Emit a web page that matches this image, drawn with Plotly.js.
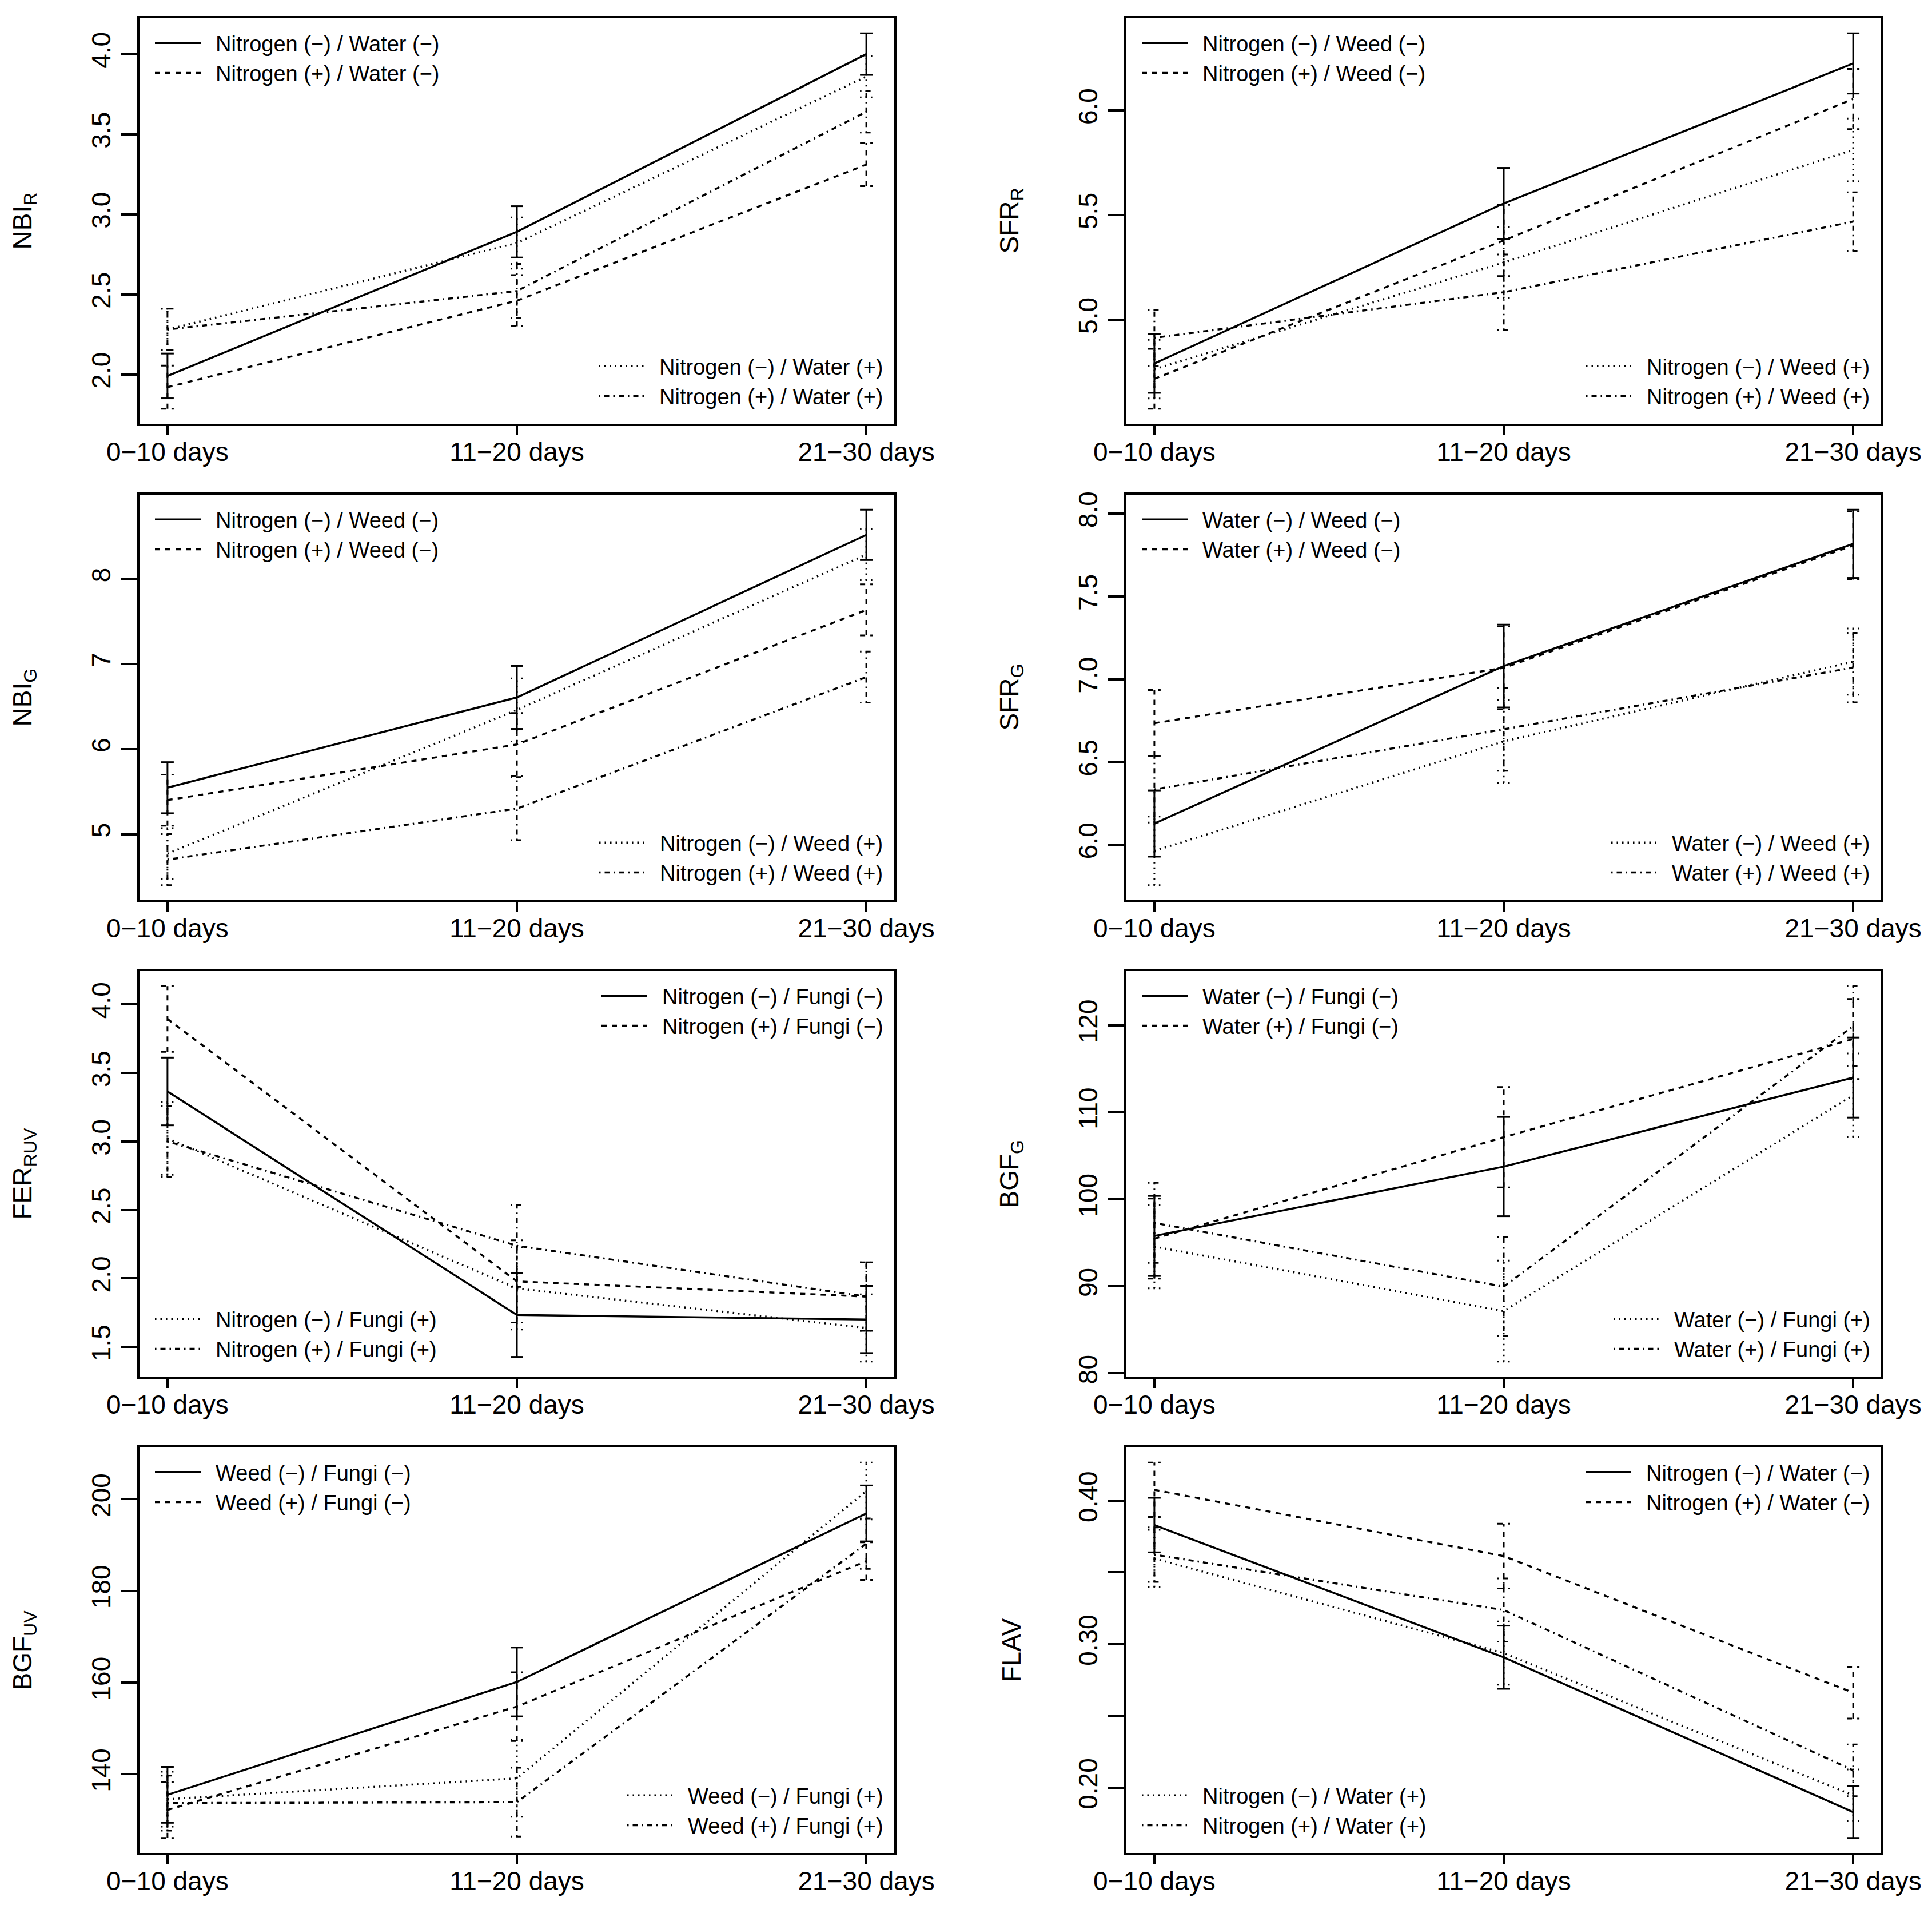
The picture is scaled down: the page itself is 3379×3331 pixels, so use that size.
<!DOCTYPE html>
<html>
<head>
<meta charset="utf-8">
<script src="https://cdn.plot.ly/plotly-3.0.1.min.js"></script>
<style>
  body { margin: 0; background: #fff; }
</style>
</head>
<body>
<div id="chart" style="width:3379px;height:3331px"></div>
<script>
// time windows on the x axis
const days = ['0\u221210 days', '11\u221220 days', '21\u221230 days'];
const dayPos = [1, 2, 3];

// every panel: [solid, dashed, dotted, dot-dash] series, means then error half-widths
const nbiR = [[1.99, 2.89, 4.00], [1.92, 2.46, 3.31], [2.28, 2.82, 3.86], [2.28, 2.52, 3.64]];
const nbiRErr = [[0.14, 0.16, 0.13], [0.135, 0.16, 0.135], [0.13, 0.16, 0.13], [0.13, 0.17, 0.13]];

const sfrR = [[4.79, 5.555, 6.224], [4.717, 5.378, 6.054], [4.763, 5.273, 5.811], [4.913, 5.131, 5.468]];
const sfrRErr = [[0.14, 0.17, 0.144], [0.143, 0.17, 0.144], [0.14, 0.17, 0.15], [0.134, 0.18, 0.14]];

const nbiG = [[5.546, 6.607, 8.518], [5.40, 6.054, 7.636], [4.77, 6.46, 8.286], [4.70, 5.30, 6.846]];
const nbiGErr = [[0.30, 0.37, 0.296], [0.30, 0.37, 0.30], [0.30, 0.37, 0.30], [0.30, 0.37, 0.30]];

const sfrG = [[6.128, 7.079, 7.817], [6.734, 7.068, 7.807], [5.963, 6.624, 7.106], [6.334, 6.697, 7.07]];
const sfrGErr = [[0.20, 0.25, 0.206], [0.20, 0.25, 0.206], [0.207, 0.25, 0.20], [0.20, 0.25, 0.21]];

const ferRuv = [[3.364, 1.733, 1.70], [3.893, 1.978, 1.867], [3.022, 1.927, 1.638], [3.0, 2.238, 1.867]];
const ferRuvErr = [[0.247, 0.306, 0.245], [0.24, 0.30, 0.25], [0.266, 0.30, 0.245], [0.26, 0.30, 0.25]];

const bgfG = [[95.79, 103.76, 113.99], [95.48, 107.14, 118.43], [94.57, 87.16, 111.96], [97.29, 89.96, 119.9]];
const bgfGErr = [[4.6, 5.7, 4.6], [4.6, 5.77, 4.6], [4.8, 5.8, 4.8], [4.6, 5.7, 4.6]];

const bgfUv = [[135.5, 160.13, 196.9], [132.2, 154.75, 186.5], [134.55, 139.1, 201.8], [133.7, 133.9, 190.3]];
const bgfUvErr = [[6.1, 7.5, 6.1], [6.1, 7.5, 4.1], [6.0, 8.4, 6.2], [6.0, 7.5, 5.5]];

const flav = [[0.383, 0.2909, 0.183], [0.4076, 0.3614, 0.2662], [0.3597, 0.2938, 0.1947], [0.3624, 0.3238, 0.2121]];
const flavErr = [[0.019, 0.022, 0.018], [0.019, 0.0226, 0.018], [0.020, 0.022, 0.018], [0.019, 0.022, 0.018]];

// y tick values (labelled), plus unlabelled ticks where R dropped the label
const nbiRTicks = [2.0, 2.5, 3.0, 3.5, 4.0];
const sfrRTicks = [5.0, 5.5, 6.0];
const nbiGTicks = [5, 6, 7, 8];
const sfrGTicks = [6.0, 6.5, 7.0, 7.5, 8.0];
const ferRuvTicks = [1.5, 2.0, 2.5, 3.0, 3.5, 4.0];
const bgfGTicks = [80, 90, 100, 110, 120];
const bgfUvTicks = [140, 160, 180, 200];
const flavTicks = [0.20, 0.30, 0.40];
const flavBareTicks = [0.25, 0.35];

const W = 3379;
const H = 3331;
const FONT = 'Liberation Sans, Arial, Helvetica, sans-serif';
const colLeft = [244, 1970];
const colRight = [1564, 3290];
const rowTop = [32, 865, 1698, 2531];
const rowBottom = [741, 1574, 2407, 3240];
const dashes = ['solid', '9px,9px', '2.5px,7px', '2.5px,7px,9px,7px'];
const capHalf = 0.018;
const gap = '\u00a0\u00a0';

function comboLabels(a, b) {
  const m = '\u2212';
  return [
    `${gap}${a} (${m}) / ${b} (${m})`,
    `${gap}${a} (+) / ${b} (${m})`,
    `${gap}${a} (${m}) / ${b} (+)`,
    `${gap}${a} (+) / ${b} (+)`,
  ];
}
function fixed(ticks, d) {
  return ticks.map(t => t.toFixed(d));
}

const panels = [
  { title: 'NBI<sub>R</sub>', mean: nbiR, err: nbiRErr, labels: comboLabels('Nitrogen', 'Water'), ticks: nbiRTicks, tickText: fixed(nbiRTicks, 1), topRight: false },
  { title: 'SFR<sub>R</sub>', mean: sfrR, err: sfrRErr, labels: comboLabels('Nitrogen', 'Weed'), ticks: sfrRTicks, tickText: fixed(sfrRTicks, 1), topRight: false },
  { title: 'NBI<sub>G</sub>', mean: nbiG, err: nbiGErr, labels: comboLabels('Nitrogen', 'Weed'), ticks: nbiGTicks, tickText: fixed(nbiGTicks, 0), topRight: false },
  { title: 'SFR<sub>G</sub>', mean: sfrG, err: sfrGErr, labels: comboLabels('Water', 'Weed'), ticks: sfrGTicks, tickText: fixed(sfrGTicks, 1), topRight: false },
  { title: 'FER<sub>RUV</sub>', mean: ferRuv, err: ferRuvErr, labels: comboLabels('Nitrogen', 'Fungi'), ticks: ferRuvTicks, tickText: fixed(ferRuvTicks, 1), topRight: true },
  { title: 'BGF<sub>G</sub>', mean: bgfG, err: bgfGErr, labels: comboLabels('Water', 'Fungi'), ticks: bgfGTicks, tickText: fixed(bgfGTicks, 0), topRight: false },
  { title: 'BGF<sub>UV</sub>', mean: bgfUv, err: bgfUvErr, labels: comboLabels('Weed', 'Fungi'), ticks: bgfUvTicks, tickText: fixed(bgfUvTicks, 0), topRight: false },
  { title: 'FLAV', mean: flav, err: flavErr, labels: comboLabels('Nitrogen', 'Water'), ticks: flavTicks, tickText: fixed(flavTicks, 2), bare: flavBareTicks, topRight: true },
];

const traces = [];
const layout = {
  width: W,
  height: H,
  margin: { l: 0, r: 0, t: 0, b: 0 },
  paper_bgcolor: 'white',
  plot_bgcolor: 'white',
  font: { family: FONT, color: 'black', size: 46 },
  annotations: [],
  hovermode: false,
};

function legendKey(n) {
  return n === 1 ? 'legend' : 'legend' + n;
}

panels.forEach((p, i) => {
  const row = Math.floor(i / 2);
  const col = i % 2;
  const suffix = i === 0 ? '' : String(i + 1);
  const bl = colLeft[col];
  const br = colRight[col];
  const bt = rowTop[row];
  const bb = rowBottom[row];

  // R style axis range: data extent plus 4% each side
  let lo = Infinity;
  let hi = -Infinity;
  p.mean.forEach((m, s) => m.forEach((v, k) => {
    lo = Math.min(lo, v - p.err[s][k]);
    hi = Math.max(hi, v + p.err[s][k]);
  }));
  const pad = (hi - lo) * 0.04;

  layout['xaxis' + suffix] = {
    domain: [bl / W, br / W],
    anchor: 'y' + suffix,
    range: [0.92, 3.08],
    tickmode: 'array',
    tickvals: dayPos,
    ticktext: days,
    ticks: 'outside',
    ticklen: 16,
    tickwidth: 4,
    tickcolor: 'black',
    ticklabelstandoff: -10,
    showline: true,
    mirror: true,
    linewidth: 4,
    linecolor: 'black',
    showgrid: false,
    zeroline: false,
    tickfont: { size: 46, family: FONT },
  };
  layout['yaxis' + suffix] = {
    domain: [1 - bb / H, 1 - bt / H],
    anchor: 'x' + suffix,
    range: [lo - pad, hi + pad],
    tickmode: 'array',
    tickvals: p.ticks,
    ticktext: p.tickText,
    tickangle: -90,
    ticks: 'outside',
    ticklen: 29,
    tickwidth: 4,
    tickcolor: 'black',
    showline: true,
    mirror: true,
    linewidth: 4,
    linecolor: 'black',
    showgrid: false,
    zeroline: false,
    tickfont: { size: 46, family: FONT },
  };
  if (p.bare) {
    layout['yaxis' + suffix].minor = {
      tickmode: 'array',
      tickvals: p.bare,
      ticks: 'outside',
      ticklen: 29,
      tickwidth: 4,
      tickcolor: 'black',
      showgrid: false,
    };
  }

  layout.annotations.push({
    text: p.title,
    xref: 'paper',
    yref: 'paper',
    x: (bl - 202) / W,
    y: 1 - (bt + bb) / 2 / H,
    xanchor: 'center',
    yanchor: 'middle',
    textangle: -90,
    showarrow: false,
    font: { size: 46, family: FONT },
  });

  const topKey = legendKey(2 * i + 1);
  const botKey = legendKey(2 * i + 2);
  const legendBase = {
    bgcolor: 'rgba(0,0,0,0)',
    borderwidth: 0,
    itemwidth: 80,
    tracegroupgap: 0,
    font: { size: 38, family: FONT },
    xref: 'paper',
    yref: 'paper',
  };
  layout[topKey] = Object.assign({}, legendBase, p.topRight
    ? { x: (br - 14) / W, xanchor: 'right', y: 1 - (bt + 12) / H, yanchor: 'top' }
    : { x: (bl + 22) / W, xanchor: 'left', y: 1 - (bt + 12) / H, yanchor: 'top' });
  layout[botKey] = Object.assign({}, legendBase, p.topRight
    ? { x: (bl + 22) / W, xanchor: 'left', y: 1 - (bb - 17) / H, yanchor: 'bottom' }
    : { x: (br - 14) / W, xanchor: 'right', y: 1 - (bb - 17) / H, yanchor: 'bottom' });

  p.mean.forEach((m, s) => {
    traces.push({
      type: 'scatter',
      mode: 'lines',
      x: dayPos,
      y: m,
      xaxis: 'x' + suffix,
      yaxis: 'y' + suffix,
      name: p.labels[s],
      legend: s < 2 ? topKey : botKey,
      line: { color: 'black', width: 3.5, dash: dashes[s] },
    });

    // error bars drawn as segments so they keep the series line type
    const ex = [];
    const ey = [];
    m.forEach((v, k) => {
      const x = dayPos[k];
      const a = v - p.err[s][k];
      const b = v + p.err[s][k];
      ex.push(x, x, null, x - capHalf, x + capHalf, null, x - capHalf, x + capHalf, null);
      ey.push(a, b, null, a, a, null, b, b, null);
    });
    traces.push({
      type: 'scatter',
      mode: 'lines',
      x: ex,
      y: ey,
      xaxis: 'x' + suffix,
      yaxis: 'y' + suffix,
      showlegend: false,
      connectgaps: false,
      line: { color: 'black', width: 3, dash: dashes[s] },
    });
  });
});

Plotly.newPlot('chart', traces, layout, { staticPlot: true });
</script>
</body>
</html>
